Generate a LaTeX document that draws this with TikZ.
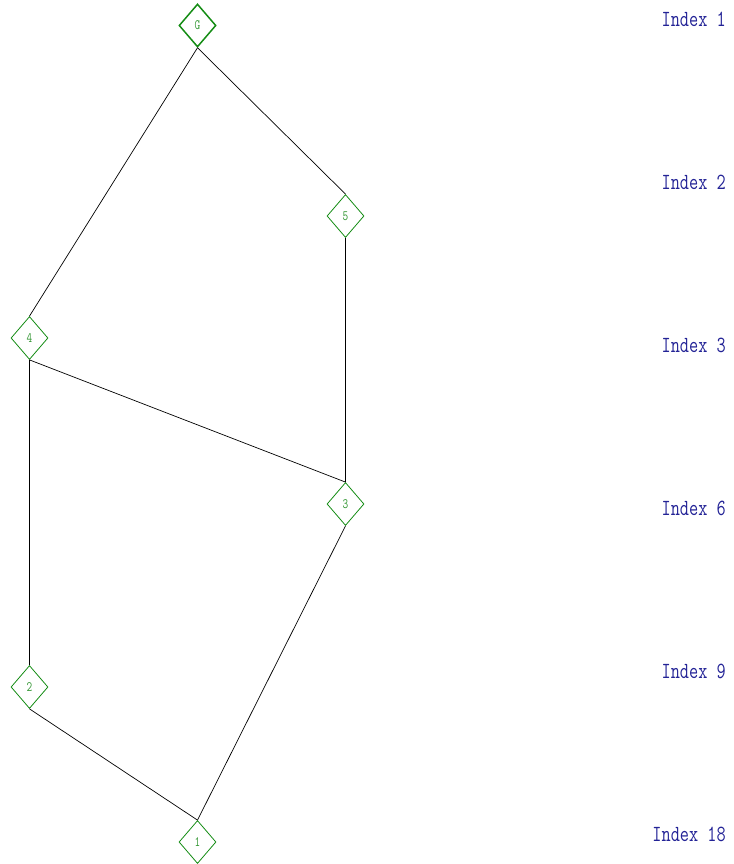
\documentclass[tikz,border=0pt]{standalone}
\usetikzlibrary{shapes.geometric}
\definecolor{dgreen}{RGB}{20,140,20}
\definecolor{tgreen}{RGB}{50,150,50}
\definecolor{navyidx}{RGB}{35,35,150}
\tikzset{
  vtx/.style={diamond, draw=dgreen, line width=0.8pt, inner sep=0pt, minimum width=37pt, minimum height=43pt, text=tgreen, font=\ttfamily\fontsize{11}{11}\selectfont},
  topvtx/.style={vtx, line width=1.5pt},
  idx/.style={anchor=east, text=navyidx, inner sep=0pt, font=\ttfamily\fontsize{17.8}{17.8}\selectfont},
  edge/.style={draw=black, line width=0.7pt}
}
\newcommand{\tallt}[1]{\scalebox{1}[1.3]{#1}}
\begin{document}
\begin{tikzpicture}[x=1pt,y=-1pt]
\useasboundingbox (0,0) rectangle (733,864);
\node[topvtx] (G) at (197.5,25.5) {\tallt{G}};
\node[vtx] (n5) at (345.5,216) {\tallt{5}};
\node[vtx] (n4) at (29.5,338) {\tallt{4}};
\node[vtx] (n3) at (345.5,504) {\tallt{3}};
\node[vtx] (n2) at (29.5,687) {\tallt{2}};
\node[vtx] (n1) at (197.5,842) {\tallt{1}};
\draw[edge] (G.south) -- (n4.north);
\draw[edge] (G.south) -- (n5.north);
\draw[edge] (n5.south) -- (n3.north);
\draw[edge] (n4.south) -- (n3.north);
\draw[edge] (n4.south) -- (n2.north);
\draw[edge] (n3.south) -- (n1.north);
\draw[edge] (n2.south) -- (n1.north);
\node[idx] (i1) at (726,19) {\tallt{Index 1}};
\node[idx] (i2) at (726,182) {\tallt{Index 2}};
\node[idx] (i3) at (726,345) {\tallt{Index 3}};
\node[idx] (i6) at (726,508) {\tallt{Index 6}};
\node[idx] (i9) at (726,671) {\tallt{Index 9}};
\node[idx] (i18) at (726,834) {\tallt{Index 18}};
\end{tikzpicture}
\end{document}
